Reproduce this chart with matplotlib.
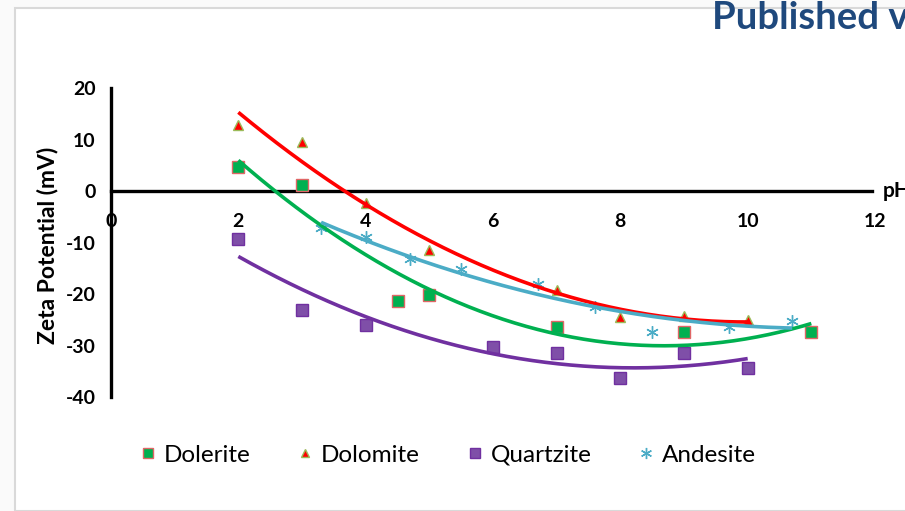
import numpy as np
import matplotlib.pyplot as plt
from matplotlib.lines import Line2D

plt.rcParams['font.family'] = ['Lato', 'DejaVu Sans']
plt.rcParams['axes.unicode_minus'] = False

# zeta potential vs pH for four rock types
dolerite_ph = [2, 3, 4.5, 5, 7, 9, 11]
dolerite_zeta = [4.7, 1.2, -21.3, -20.2, -26.4, -27.3, -27.3]

dolomite_ph = [2, 3, 4, 5, 7, 8, 9, 10]
dolomite_zeta = [12.8, 9.6, -2.3, -11.4, -19.2, -24.4, -24.3, -25.1]

quartzite_ph = [2, 3, 4, 6, 7, 8, 9, 10]
quartzite_zeta = [-9.3, -23.1, -26.0, -30.3, -31.4, -36.3, -31.4, -34.4]

andesite_ph = [3.3, 4, 4.7, 5.5, 6.7, 7.6, 8.5, 9.7, 10.7]
andesite_zeta = [-7.1, -8.9, -13.3, -15.1, -18.0, -22.5, -27.4, -26.4, -25.3]

x_ticks = [0, 2, 4, 6, 8, 10, 12]
y_ticks = [-40, -30, -20, -10, 0, 10, 20]

fig = plt.figure(figsize=(9.05, 5.11), dpi=100)
fig.patch.set_facecolor('#fafafa')

# white chart panel with a thin grey border
panel = plt.Rectangle((15 / 905, 0), 1, 1 - 8 / 511, transform=fig.transFigure,
                      facecolor='white', edgecolor='#d9d9d9', linewidth=1.5, zorder=0)
fig.patches.append(panel)

ax = fig.add_axes([111 / 905, 1 - 397 / 511, (875 - 111) / 905, (397 - 88) / 511])
ax.set_zorder(2)
ax.set_facecolor('none')
ax.set_xlim(0, 12)
ax.set_ylim(-40, 20)

for side in ['top', 'right']:
    ax.spines[side].set_visible(False)
ax.spines['left'].set_position(('data', 0))
ax.spines['bottom'].set_position(('data', 0))
ax.spines['left'].set_linewidth(2.4)
ax.spines['bottom'].set_linewidth(2.4)
ax.spines['bottom'].set_bounds(0, 11.95)

ax.set_xticks(x_ticks)
ax.set_yticks(y_ticks)
ax.tick_params(length=0)
ax.tick_params(axis='x', pad=16, labelsize=14)
ax.tick_params(axis='y', pad=11, labelsize=14)
for lab in ax.get_xticklabels() + ax.get_yticklabels():
    lab.set_fontweight('bold')

fig.text(47 / 905, 1 - 245 / 511, 'Zeta Potential (mV)', rotation=90, ha='center',
         va='center', fontsize=16.5, fontweight='bold')
ax.text(12.12, 0, 'pH', ha='left', va='center', fontsize=15, fontweight='bold',
        clip_on=False)

series = [
    ('Dolerite', dolerite_ph, dolerite_zeta, 's', '#00b050', '#e06666', '#00b050', 8),
    ('Dolomite', dolomite_ph, dolomite_zeta, '^', '#ff0000', '#9bbb59', '#ff0000', 7),
    ('Quartzite', quartzite_ph, quartzite_zeta, 's', '#7f4fa8', '#7030a0', '#7030a0', 8),
    ('Andesite', andesite_ph, andesite_zeta, (6, 2, 0), '#4bacc6', '#4bacc6', '#4bacc6', 9),
]

handles = []
for name, xs, ys, mk, face, edge, line_col, ms in series:
    ax.plot(xs, ys, linestyle='none', marker=mk, markersize=ms, markerfacecolor=face,
            markeredgecolor=edge, markeredgewidth=1.0, zorder=3)
    # second order polynomial trendline over the data range
    coef = np.polyfit(xs, ys, 2)
    xx = np.linspace(min(xs), max(xs), 200)
    ax.plot(xx, np.polyval(coef, xx), color=line_col, linewidth=2.6, zorder=4,
            solid_capstyle='butt')
    handles.append(Line2D([], [], linestyle='none', marker=mk, markersize=ms - 1,
                          markerfacecolor=face, markeredgecolor=edge, label=name))

fig.legend(handles=handles, loc='center', bbox_to_anchor=(449 / 905, 1 - 455 / 511),
           ncol=4, frameon=False, fontsize=17.5, handlelength=0.5, handletextpad=0.4,
           columnspacing=2.0)

fig.text(712 / 905, 1 - 18 / 511, 'Published v', ha='left', va='center', fontsize=27.5,
         fontweight='bold', color='#1f497d')

plt.savefig('out.png', dpi=100, facecolor=fig.get_facecolor())
